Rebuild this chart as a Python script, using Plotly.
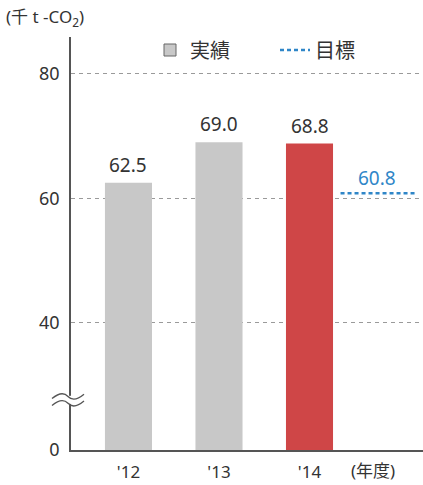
import plotly.graph_objects as go

years = ["'12", "'13", "'14"]
actual = [62.5, 69.0, 68.8]
bar_colors = ["#c8c8c8", "#c8c8c8", "#cf4647"]
target = 60.8
y_tick_vals = [19.6, 40, 60, 80]
y_tick_text = ["0", "40", "60", "80"]

W, H = 423, 485
L, R, T, B = 71, 0, 37, 35
x_pos = list(range(len(years)))

FONT = "Noto Sans, Noto Sans CJK JP, sans-serif"
TXT = "#333333"
BLUE = "#2f86c8"

fig = go.Figure()
fig.add_trace(go.Bar(
    x=x_pos, y=actual, name="実績", width=0.52,
    marker=dict(color=bar_colors, line=dict(width=0)),
    showlegend=False,
))
# legend entry for 実績 (gray square)
fig.add_trace(go.Bar(
    x=[None], y=[None], name="実績",
    marker=dict(color="#c8c8c8", line=dict(color="#666666", width=1)),
))
fig.add_trace(go.Scatter(
    x=[2.343, 3.17], y=[target, target], mode="lines", name="目標",
    line=dict(color=BLUE, width=2.5, dash="4px,3px"),
))

annotations = []
for i, v in enumerate(actual):
    annotations.append(dict(x=i, y=v, text=f"{v:.1f}", showarrow=False,
                            yanchor="bottom", yshift=3,
                            font=dict(size=19, color=TXT, family=FONT)))
annotations.append(dict(x=2.746, y=target, text=f"{target:.1f}", showarrow=False,
                        yanchor="bottom", yshift=0,
                        font=dict(size=19, color=BLUE, family=FONT)))
annotations.append(dict(xref="paper", yref="paper", x=(4 - L) / (W - L - R), y=1 + (T - 18) / (H - T - B),
                        xanchor="left", yanchor="middle", showarrow=False,
                        text="(千 t -CO<sub>2</sub>)", font=dict(size=17, color=TXT, family=FONT)))
annotations.append(dict(xref="paper", yref="paper", x=(373 - L) / (W - L - R), y=-(470 - 450) / (H - T - B),
                        xanchor="center", yanchor="middle", showarrow=False,
                        text="(年度)", font=dict(size=17, color=TXT, family=FONT)))

# axis-break mark
px0, px1 = (52 - L) / (W - L - R), (84 - L) / (W - L - R)
shapes = [
    dict(type="rect", xref="paper", yref="y", x0=px0, x1=px1, y0=27.0, y1=28.3,
         fillcolor="white", line=dict(width=0), layer="above"),
]
for yc in (28.2, 27.1):
    xm = (px0 + px1) / 2
    path = (f"M {px0},{yc - 0.35} C {px0 + 0.02},{yc + 0.6} {xm - 0.01},{yc + 0.6} {xm},{yc} "
            f"C {xm + 0.01},{yc - 0.6} {px1 - 0.02},{yc - 0.6} {px1},{yc + 0.35}")
    shapes.append(dict(type="path", xref="paper", yref="y", path=path,
                       line=dict(color="#555555", width=1.3), layer="above"))

fig.update_layout(
    width=W, height=H,
    margin=dict(l=L, r=R, t=T, b=B, autoexpand=False),
    paper_bgcolor="white", plot_bgcolor="white",
    font=dict(family=FONT, color=TXT),
    bargap=0.48,
    legend=dict(orientation="h", x=(150 - L) / (W - L - R), y=1 - (50 - T) / (H - T - B),
                xanchor="left", yanchor="middle", entrywidth=80, entrywidthmode="pixels",
                font=dict(size=20, color=TXT, family=FONT), bgcolor="rgba(0,0,0,0)",
                traceorder="normal"),
    xaxis=dict(range=[-0.635, 3.254], tickvals=x_pos, ticktext=years,
               showline=True, linecolor="#555555", linewidth=1.5,
               ticks="outside", ticklen=6, tickcolor="rgba(0,0,0,0)",
               tickfont=dict(size=17, color=TXT, family=FONT), showgrid=False, zeroline=False),
    yaxis=dict(range=[19.6, 85.9], tickvals=y_tick_vals, ticktext=y_tick_text,
               showline=True, linecolor="#555555", linewidth=1.5,
               ticks="outside", ticklen=6, tickcolor="rgba(0,0,0,0)",
               tickfont=dict(size=18, color=TXT, family=FONT),
               showgrid=True, gridcolor="#9a9a9a", griddash="4px,4px", gridwidth=1,
               zeroline=False),
    annotations=annotations,
    shapes=shapes,
)

fig.write_html("out.html")
